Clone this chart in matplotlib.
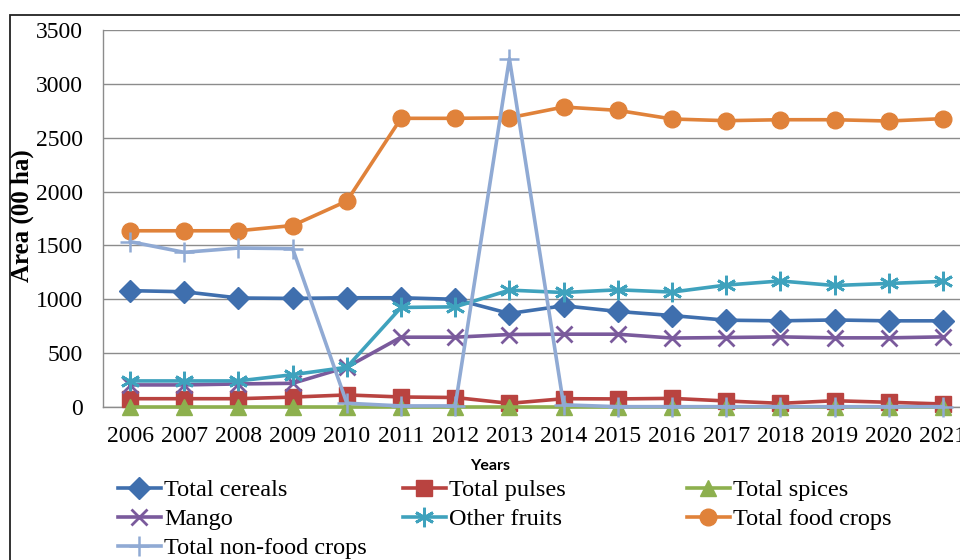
import matplotlib
matplotlib.use("Agg")
import matplotlib.pyplot as plt
from matplotlib.lines import Line2D
from matplotlib.patches import Rectangle

years = ["2006", "2007", "2008", "2009", "2010", "2011", "2012", "2013",
         "2014", "2015", "2016", "2017", "2018", "2019", "2020", "2021"]

total_cereals = [1080, 1070, 1012, 1008, 1014, 1014, 1000, 868,
                 940, 887, 849, 806, 800, 808, 800, 800]
total_pulses = [77, 77, 77, 92, 112, 93, 88, 34,
                77, 75, 80, 56, 34, 58, 44, 28]
total_spices = [3, 3, 3, 3, 3, 3, 3, 3,
                3, 3, 3, 3, 3, 3, 3, 3]
mango = [205, 205, 214, 220, 370, 648, 648, 673,
         676, 676, 640, 645, 651, 642, 642, 651]
other_fruits = [242, 242, 242, 300, 369, 924, 930, 1085,
                1063, 1088, 1067, 1132, 1170, 1128, 1147, 1166]
total_food_crops = [1636, 1636, 1636, 1685, 1912, 2680, 2680, 2685,
                    2785, 2754, 2674, 2658, 2667, 2667, 2655, 2677]
total_non_food_crops = [1535, 1436, 1476, 1470, 35, 10, 10, 3234,
                        20, 3, 3, 3, 3, 3, 3, 3]

W, H = 960, 560
fig = plt.figure(figsize=(W / 100, H / 100), dpi=100)

# outer chart frame (extends past the right and bottom edges)
fig.add_artist(Rectangle((10 / W, -0.2), 1.2, (H - 15) / H + 0.2,
                         transform=fig.transFigure, fill=False,
                         edgecolor="#222222", linewidth=1.3))

left, right, top, bottom = 103, 970, 30, 407
ax = fig.add_axes([left / W, 1 - bottom / H, (right - left) / W, (bottom - top) / H])

serif = "Liberation Serif"
fs = 17

series = [
    ("Total cereals", total_cereals, "#3F6FAE", "D", 11, {}),
    ("Total pulses", total_pulses, "#B94340", "s", 12, {}),
    ("Total spices", total_spices, "#8DB04E", "^", 12, {}),
    ("Mango", mango, "#7A5A9C", "x", 12, {"markeredgewidth": 2.0}),
    ("Other fruits", other_fruits, "#3FA2BD", (6, 2, 0), 14, {"markeredgewidth": 2.0}),
    ("Total food crops", total_food_crops, "#E0823A", "o", 12, {}),
    ("Total non-food crops", total_non_food_crops, "#90AAD4", "+", 14, {"markeredgewidth": 1.8}),
]

x = list(range(len(years)))
handles = {}
for z, (name, vals, col, mk, ms, extra) in enumerate(series):
    ln, = ax.plot(x, vals, color=col, linewidth=2.6, marker=mk, markersize=ms,
                  markerfacecolor=col, markeredgecolor=col, clip_on=False,
                  zorder=3 + z, label=name, **extra)
    handles[name] = ln

ax.set_xlim(-0.5, len(years) - 0.5)
ax.set_ylim(0, 3500)
ax.set_yticks(range(0, 3501, 500))
ax.set_xticks(x)
ax.set_xticklabels(years)
ax.grid(axis="y", color="#8c8c8c", linewidth=1.0)
ax.set_axisbelow(True)
for s in ("top", "right"):
    ax.spines[s].set_visible(False)
for s in ("left", "bottom"):
    ax.spines[s].set_color("#8c8c8c")
    ax.spines[s].set_linewidth(1.0)
ax.tick_params(axis="both", length=0, labelsize=fs)
ax.tick_params(axis="y", pad=14.5)
ax.tick_params(axis="x", pad=14)
for lab in ax.get_xticklabels() + ax.get_yticklabels():
    lab.set_fontfamily(serif)

fig.text(22 / W, 1 - 216 / H, "Area (00 ha)", rotation=90, ha="center", va="center",
         fontfamily=serif, fontweight="bold", fontsize=18)
fig.text(490 / W, 1 - 466 / H, "Years", ha="center", va="center",
         fontfamily="Lato", fontweight="bold", fontsize=11.5)

columns = [
    (118, ["Total cereals", "Mango", "Total non-food crops"]),
    (403, ["Total pulses", "Other fruits"]),
    (687, ["Total spices", "Total food crops"]),
]
for xpos, names in columns:
    hs = []
    for n in names:
        src = handles[n]
        hs.append(Line2D([], [], color=src.get_color(), linewidth=2.6,
                         marker=src.get_marker(), markersize=src.get_markersize(),
                         markerfacecolor=src.get_color(), markeredgecolor=src.get_color(),
                         markeredgewidth=src.get_markeredgewidth()))
    fig.legend(hs, names, loc="upper left", bbox_to_anchor=(xpos / W, 1 - 479 / H),
               frameon=False, borderpad=0, borderaxespad=0, handlelength=1.75,
               handletextpad=0.15, labelspacing=0.29, numpoints=1,
               prop={"family": serif, "size": 17.5})

fig.savefig("out.png", dpi=100)
